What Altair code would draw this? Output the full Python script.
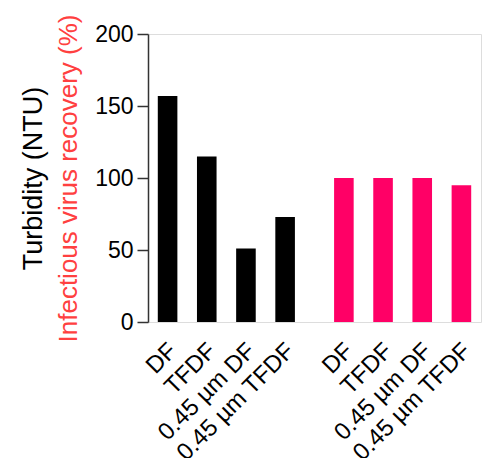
import altair as alt
import pandas as pd

categories = ["DF", "TFDF", "0.45 µm DF", "0.45 µm TFDF"]
groups = ["Turbidity", "Recovery"]
turbidity = [157, 115, 51, 73]
recovery = [100, 100, 100, 95]
group_colors = ["#000000", "#FF0066"]

rows = []
for c, v in zip(categories, turbidity):
    rows.append({"group": groups[0], "category": c, "value": v})
for c, v in zip(categories, recovery):
    rows.append({"group": groups[1], "category": c, "value": v})
df = pd.DataFrame(rows)

x_enc = alt.X("group:N", sort=groups, axis=None,
              scale=alt.Scale(paddingInner=0.5 / 4.5, paddingOuter=0))
xo_enc = alt.XOffset("category:N", sort=categories,
                     scale=alt.Scale(paddingInner=0.5, paddingOuter=0.25))
y_scale = alt.Scale(domain=[0, 200], nice=False)

bars = alt.Chart(df).mark_bar().encode(
    x=x_enc,
    xOffset=xo_enc,
    y=alt.Y("value:Q", scale=y_scale,
            axis=alt.Axis(values=[0, 50, 100, 150, 200], title="Infectious virus recovery (%)",
                          titleColor="#FF4040", titleFontSize=26, titleFontWeight="normal",
                          titlePadding=13, labelFontSize=23, labelColor="#000000",
                          labelPadding=4, tickSize=11, tickColor="#333333", tickWidth=1.5,
                          domain=True, domainColor="#333333", domainWidth=1.5, grid=False)),
    color=alt.Color("group:N", sort=groups, legend=None,
                    scale=alt.Scale(domain=groups, range=group_colors)),
)

labels = alt.Chart(df).mark_text(
    angle=315, align="right", baseline="middle", fontSize=24, dx=-14, dy=22, color="#000000"
).encode(
    x=x_enc,
    xOffset=xo_enc,
    y=alt.Y("zero:Q", scale=y_scale,
            axis=alt.Axis(orient="left", title="Turbidity (NTU)", titleColor="#000000",
                          titleFontSize=27, titleFontWeight="normal", titlePadding=0,
                          labels=False, ticks=False, domain=False, grid=False,
                          offset=101, minExtent=0)),
    text="category:N",
).transform_calculate(zero="0")

chart = alt.layer(bars, labels).resolve_axis(y="independent").properties(
    width=333, height=288,
    autosize=alt.AutoSizeParams(type="none"),
    padding={"left": 140, "top": 26, "right": 2, "bottom": 136},
).configure_view(stroke="#333333", strokeWidth=1.5).configure(font="Liberation Sans")

chart.save("out.html", embed_options={"renderer": "svg", "actions": False})
